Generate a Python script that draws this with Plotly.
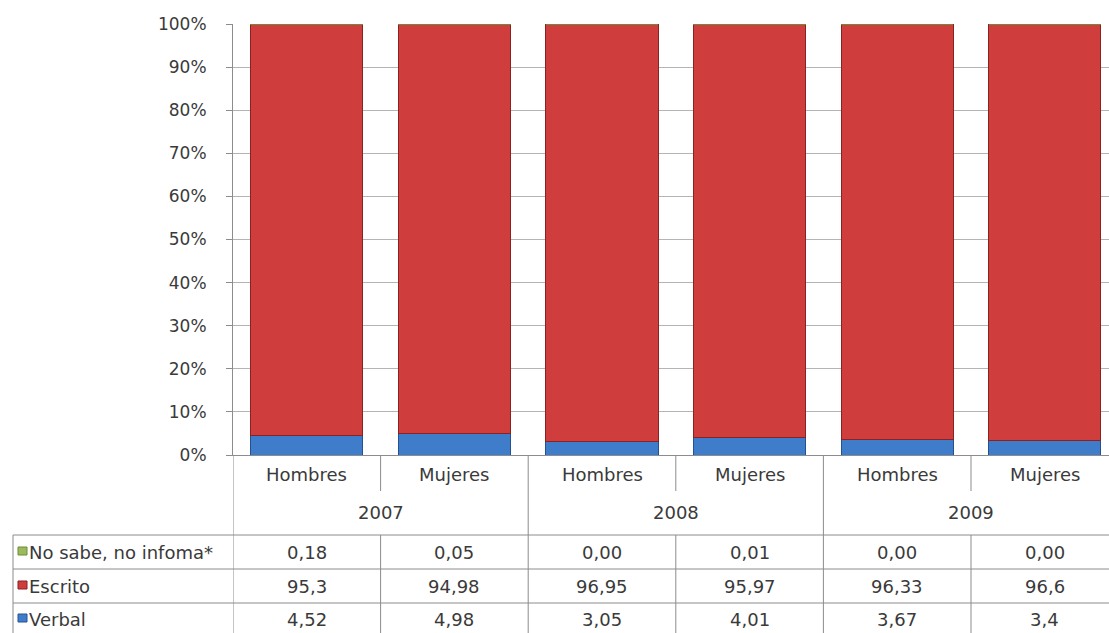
import plotly.graph_objects as go

# ---- data ----
years = ["2007", "2008", "2009"]
sexes = ["Hombres", "Mujeres", "Hombres", "Mujeres", "Hombres", "Mujeres"]
no_sabe = [0.18, 0.05, 0.00, 0.01, 0.00, 0.00]
escrito = [95.3, 94.98, 96.95, 95.97, 96.33, 96.6]
verbal = [4.52, 4.98, 3.05, 4.01, 3.67, 3.4]
series_names = ["No sabe, no infoma*", "Escrito", "Verbal"]
y_ticks = [0, 10, 20, 30, 40, 50, 60, 70, 80, 90, 100]

# ---- geometry ----
W, H = 1109, 633
L, T, B_AX = 233, 24, 455
PW, PH = W - L, B_AX - T
FONT = "DejaVu Sans"
FS = 18
TXT = "#3a3a3a"
LINE = "#8c8c8c"

def py(p):  # pixel row -> paper y
    return (B_AX - p) / PH

def px(p):  # pixel column -> paper x
    return (p - L) / PW

colors = {"No sabe, no infoma*": "#9BBB59", "Escrito": "#CF3D3D", "Verbal": "#3F7DCB"}
edges = {"No sabe, no infoma*": "#6f8a3c", "Escrito": "#8a2222", "Verbal": "#24528f"}

xs = list(range(len(sexes)))
fig = go.Figure()
for name, vals in [("Verbal", verbal), ("Escrito", escrito), ("No sabe, no infoma*", no_sabe)]:
    fig.add_trace(go.Bar(x=xs, y=vals, name=name, width=0.76,
                         marker=dict(color=colors[name], line=dict(color=edges[name], width=1))))

shapes = []
annotations = []

def txt(x, y, s, xref="x", xanchor="center"):
    return dict(x=x, y=y, xref=xref, yref="paper", text=s, showarrow=False,
                xanchor=xanchor, yanchor="middle",
                font=dict(family=FONT, size=FS, color=TXT))

# category labels and year labels
for i, s in enumerate(sexes):
    annotations.append(txt(i, py(474), s))
for j, yr in enumerate(years):
    annotations.append(txt(2 * j + 0.5, py(512), yr))

# vertical lines
for b in [-0.5, 1.5, 3.5]:
    shapes.append(dict(type="line", xref="x", yref="paper", x0=b, x1=b, y0=py(455), y1=py(640),
                       line=dict(color=LINE, width=1)))
for b in [0.5, 2.5, 4.5]:
    shapes.append(dict(type="line", xref="x", yref="paper", x0=b, x1=b, y0=py(455), y1=py(491),
                       line=dict(color=LINE, width=1)))
    shapes.append(dict(type="line", xref="x", yref="paper", x0=b, x1=b, y0=py(535), y1=py(640),
                       line=dict(color=LINE, width=1)))
# table left border
shapes.append(dict(type="line", xref="paper", yref="paper", x0=px(13), x1=px(13), y0=py(535), y1=py(640),
                   line=dict(color=LINE, width=1)))
# table horizontal lines
for r in [535, 569, 603]:
    shapes.append(dict(type="line", xref="paper", yref="paper", x0=px(13), x1=1.0, y0=py(r), y1=py(r),
                       line=dict(color=LINE, width=1)))

# table rows
rows = [("No sabe, no infoma*", no_sabe, lambda v: f"{v:.2f}"),
        ("Escrito", escrito, lambda v: f"{v:g}"),
        ("Verbal", verbal, lambda v: f"{v:g}")]
centers = [552, 586, 619]
for (name, vals, fmt), c in zip(rows, centers):
    shapes.append(dict(type="rect", xref="paper", yref="paper", x0=px(18), x1=px(27),
                       y0=py(c + 3), y1=py(c - 5), fillcolor=colors[name],
                       line=dict(color=edges[name], width=1)))
    annotations.append(txt(px(27), py(c), name, xref="paper", xanchor="left"))
    for i, v in enumerate(vals):
        annotations.append(txt(i, py(c), fmt(v).replace(".", ",")))

fig.update_layout(
    width=W, height=H,
    margin=dict(l=L, r=0, t=T, b=H - B_AX, pad=0),
    paper_bgcolor="white", plot_bgcolor="white",
    barmode="stack", showlegend=False,
    shapes=shapes, annotations=annotations,
    xaxis=dict(range=[-0.5, -0.5 + PW / 147.6], showticklabels=False, ticks="",
               showgrid=False, zeroline=False, showline=True, linecolor=LINE, linewidth=1,
               fixedrange=True),
    yaxis=dict(range=[0, 100], tickvals=y_ticks, ticktext=[f"{v}%" for v in y_ticks],
               showgrid=True, gridcolor="#b4b4b4", gridwidth=1, zeroline=False, showline=True,
               linecolor=LINE, linewidth=1, ticks="outside", ticklen=6, tickcolor=LINE,
               ticklabelstandoff=16,
               tickfont=dict(family=FONT, size=FS - 1, color=TXT)),
)

fig.write_html("out.html", config={"displayModeBar": False},
               post_script="document.body.style.margin='0px';")
